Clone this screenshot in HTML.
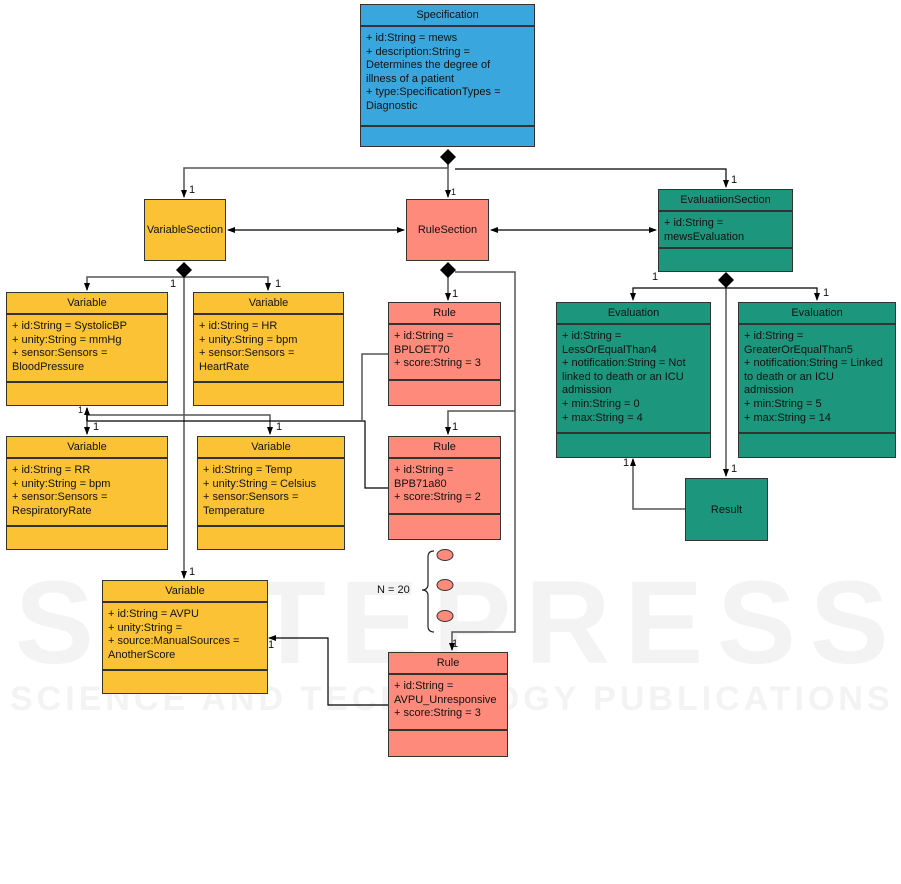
<!DOCTYPE html>
<html><head><meta charset="utf-8"><style>
body{margin:0;width:901px;height:884px;background:#fff;position:relative;overflow:hidden;font-family:"Liberation Sans",sans-serif;font-size:11px;color:#111}
.b{position:absolute;border:1.5px solid #333;box-sizing:border-box}
.t{text-align:center;height:22px;line-height:20px;border-bottom:2px solid #333;box-sizing:border-box}
.a{padding:5px 5px 3px;line-height:13.6px;border-bottom:2px solid #333;box-sizing:border-box}
.y{background:#fbc235}.r{background:#fe8a7b}.g{background:#1c967c}.bl{background:#39a6dd}
.c{display:flex;align-items:center;justify-content:center}
.l{position:absolute;font-size:11px}
.w{position:absolute;color:#f3f3f3;font-weight:bold;white-space:nowrap}
</style></head><body>
<div class="w" style="left:15px;top:555px;font-size:118px;letter-spacing:14px">SCITEPRESS</div>
<div class="w" style="left:10px;top:680px;font-size:34px;letter-spacing:4px">SCIENCE AND TECHNOLOGY PUBLICATIONS</div>
<svg width="901" height="884" style="position:absolute;left:0;top:0" xmlns="http://www.w3.org/2000/svg">
<defs><marker id="m" markerWidth="8" markerHeight="8" refX="7" refY="4" orient="auto" markerUnits="userSpaceOnUse"><path d="M0,1 L8,4 L0,7z" fill="#000"/></marker></defs>
<g fill="none" stroke="#555" stroke-width="1.5">
<path d="M448,163 V168 H184 V197" marker-end="url(#m)"/>
<path d="M448,163 V197" marker-end="url(#m)"/>
<path d="M455,169 H726 V187" marker-end="url(#m)" stroke="#000" stroke-width="1.2"/>
<path d="M184,276 V578" marker-end="url(#m)"/>
<path d="M184,277 H87 V290" marker-end="url(#m)"/>
<path d="M184,277 H268 V290" marker-end="url(#m)"/>
<path d="M87,415 H270 V434" marker-end="url(#m)"/>
<path d="M87,415 V434" marker-end="url(#m)"/>
<path d="M87,421 V408" marker-end="url(#m)" stroke="#000"/>
<path d="M87,421 H365 V488 H388" stroke="#000" stroke-width="1.2"/>
<path d="M362,421 V354 H388"/>
<path d="M448,277 V300" marker-end="url(#m)"/>
<path d="M455,272 H515 V632 H452 V650" marker-end="url(#m)"/>
<path d="M515,411 H448 V434" marker-end="url(#m)"/>
<path d="M388,705 H328 V638 H269" marker-end="url(#m)" stroke="#000" stroke-width="1.2"/>
<path d="M726,287 V476" marker-end="url(#m)"/>
<path d="M726,288 H633 V300" marker-end="url(#m)" stroke="#000" stroke-width="1.2"/>
<path d="M726,288 H817 V300" marker-end="url(#m)" stroke="#000" stroke-width="1.2"/>
<path d="M685,509 H633 V459" marker-end="url(#m)"/>
<path d="M318,230 H228" marker-end="url(#m)" stroke="#000" stroke-width="1.2"/>
<path d="M318,230 H404" marker-end="url(#m)" stroke="#000" stroke-width="1.2"/>
<path d="M575,230 H491" marker-end="url(#m)" stroke="#000" stroke-width="1.2"/>
<path d="M575,230 H656" marker-end="url(#m)" stroke="#000" stroke-width="1.2"/>
<path d="M434,551 Q428,551 428,557 V584 Q428,590 422,590 Q428,590 428,596 V626 Q428,632 434,632" stroke="#222" stroke-width="1.2"/>
</g>
<g fill="#000">
<path d="M448,149 L456,157 L448,165 L440,157z"/>
<path d="M184,262 L192,270 L184,278 L176,270z"/>
<path d="M448,262 L456,270 L448,278 L440,270z"/>
<path d="M726,272 L734,280 L726,288 L718,280z"/>
</g>
<g fill="#fe8a7b" stroke="#333"><ellipse cx="445" cy="555" rx="8" ry="5.5"/><ellipse cx="445" cy="585" rx="8" ry="5.5"/><ellipse cx="445" cy="616" rx="8" ry="5.5"/></g>
</svg>
<div class="l" style="left:189px;top:184px">1</div><div class="l" style="left:451px;top:187px;font-size:9px">1</div><div class="l" style="left:731px;top:174px">1</div>
<div class="l" style="left:170px;top:278px">1</div><div class="l" style="left:275px;top:278px">1</div><div class="l" style="left:452px;top:288px">1</div>
<div class="l" style="left:78px;top:405px;font-size:9px">1</div><div class="l" style="left:93px;top:421px">1</div><div class="l" style="left:276px;top:421px">1</div>
<div class="l" style="left:452px;top:421px">1</div><div class="l" style="left:189px;top:566px">1</div><div class="l" style="left:268px;top:639px">1</div>
<div class="l" style="left:452px;top:638px">1</div><div class="l" style="left:652px;top:271px">1</div><div class="l" style="left:823px;top:287px">1</div>
<div class="l" style="left:623px;top:457px">1</div><div class="l" style="left:731px;top:463px">1</div>
<div class="l" style="left:377px;top:584px">N = 20</div>

<div class="b bl" style="left:360px;top:4px;width:175px;height:143px"><div class="t">Specification</div><div class="a" style="height:100px">+ id:String = mews<br>+ description:String =<br>Determines the degree of<br>illness of a patient<br>+ type:SpecificationTypes =<br>Diagnostic</div></div>
<div class="b y c" style="left:144px;top:199px;width:82px;height:62px">VariableSection</div>
<div class="b r c" style="left:406px;top:199px;width:83px;height:62px">RuleSection</div>
<div class="b g" style="left:658px;top:189px;width:135px;height:83px"><div class="t">EvaluatiionSection</div><div class="a" style="height:37px">+ id:String =<br>mewsEvaluation</div></div>

<div class="b y" style="left:6px;top:292px;width:162px;height:114px"><div class="t">Variable</div><div class="a" style="height:68px">+ id:String = SystolicBP<br>+ unity:String = mmHg<br>+ sensor:Sensors =<br>BloodPressure</div></div>
<div class="b y" style="left:193px;top:292px;width:151px;height:114px"><div class="t">Variable</div><div class="a" style="height:68px">+ id:String = HR<br>+ unity:String = bpm<br>+ sensor:Sensors =<br>HeartRate</div></div>
<div class="b y" style="left:6px;top:436px;width:162px;height:114px"><div class="t">Variable</div><div class="a" style="height:68px">+ id:String = RR<br>+ unity:String = bpm<br>+ sensor:Sensors =<br>RespiratoryRate</div></div>
<div class="b y" style="left:197px;top:436px;width:148px;height:114px"><div class="t">Variable</div><div class="a" style="height:68px">+ id:String = Temp<br>+ unity:String = Celsius<br>+ sensor:Sensors =<br>Temperature</div></div>
<div class="b y" style="left:102px;top:580px;width:166px;height:114px"><div class="t">Variable</div><div class="a" style="height:68px">+ id:String = AVPU<br>+ unity:String =<br>+ source:ManualSources =<br>AnotherScore</div></div>

<div class="b r" style="left:388px;top:302px;width:113px;height:104px"><div class="t">Rule</div><div class="a" style="height:56px">+ id:String =<br>BPLOET70<br>+ score:String = 3</div></div>
<div class="b r" style="left:388px;top:436px;width:113px;height:104px"><div class="t">Rule</div><div class="a" style="height:56px">+ id:String =<br>BPB71a80<br>+ score:String = 2</div></div>
<div class="b r" style="left:388px;top:652px;width:120px;height:105px"><div class="t">Rule</div><div class="a" style="height:56px">+ id:String =<br>AVPU_Unresponsive<br>+ score:String = 3</div></div>

<div class="b g" style="left:556px;top:302px;width:155px;height:156px"><div class="t">Evaluation</div><div class="a" style="height:109px">+ id:String =<br>LessOrEqualThan4<br>+ notification:String = Not<br>linked to death or an ICU<br>admission<br>+ min:String = 0<br>+ max:String = 4</div></div>
<div class="b g" style="left:738px;top:302px;width:158px;height:156px"><div class="t">Evaluation</div><div class="a" style="height:109px">+ id:String =<br>GreaterOrEqualThan5<br>+ notification:String = Linked<br>to death or an ICU<br>admission<br>+ min:String = 5<br>+ max:String = 14</div></div>
<div class="b g c" style="left:685px;top:478px;width:83px;height:63px">Result</div>
</body></html>
